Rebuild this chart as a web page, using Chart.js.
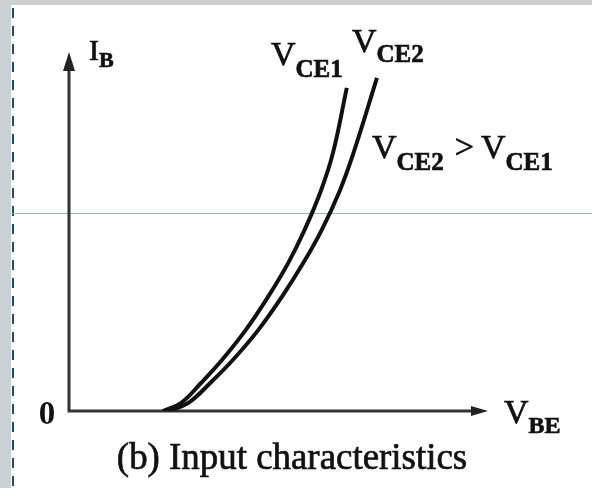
<!DOCTYPE html>
<html>
<head>
<meta charset="utf-8">
<title>Input characteristics</title>
<script src="https://cdn.jsdelivr.net/npm/chart.js@4"></script>
<style>
  html, body { margin: 0; padding: 0; background: #fff; }
  #wrap { position: relative; width: 592px; height: 488px; overflow: hidden; }
  canvas { position: absolute; left: 0; top: 0; }
</style>
</head>
<body>
<div id="wrap"><canvas id="chart" width="592" height="488"></canvas></div>
<script>
// V_BE (V) and I_B (uA)
const vbe1 = [0.224, 0.267, 0.315, 0.365, 0.422, 0.475, 0.523, 0.562, 0.601, 0.630, 0.663];
const ib1  = [0,     2.2,   7.8,   14.2,  22.6,  31.8,  41.2,  50.4,  61.3,  71.9,  90.0];
const vbe2 = [0.236, 0.284, 0.337, 0.391, 0.452, 0.508, 0.559, 0.603, 0.646, 0.679, 0.735];
const ib2  = [0,     2.2,   7.8,   14.2,  22.6,  31.8,  41.2,  50.4,  61.3,  71.9,  92.8];
const seriesNames = ['VCE1', 'VCE2'];

const SERIF = '"Liberation Serif", "DejaVu Serif", serif';
const INK = '#111';

function toPoints(xs, ys) {
  return xs.map((x, i) => ({ x, y: ys[i] }));
}

// text with a subscript, parts: [text, size, weight, dy]
function drawParts(ctx, x, y, parts) {
  let cx = x;
  parts.forEach(([text, size, weight, dy]) => {
    ctx.font = `${weight} ${size}px ${SERIF}`;
    ctx.fillText(text, cx, y + dy);
    ctx.strokeText(text, cx, y + dy);
    cx += ctx.measureText(text).width;
  });
  return cx;
}

const framePlugin = {
  id: 'frame',
  beforeDraw(chart) {
    const ctx = chart.ctx;
    ctx.save();
    ctx.fillStyle = '#fff';
    ctx.fillRect(0, 0, chart.width, chart.height);
    // screenshot border bits
    ctx.fillStyle = '#c9d1d5';
    ctx.fillRect(0, 0, 11, chart.height);
    ctx.fillStyle = '#cfcfcf';
    ctx.fillRect(0, 0, chart.width, 5);
    ctx.strokeStyle = '#1d4f5e';
    ctx.lineWidth = 2;
    ctx.setLineDash([10, 8]);
    ctx.beginPath();
    ctx.moveTo(13, 8);
    ctx.lineTo(13, chart.height);
    ctx.stroke();
    ctx.setLineDash([]);
    ctx.strokeStyle = '#9fb2b8';
    ctx.lineWidth = 1;
    ctx.beginPath();
    ctx.moveTo(11, 213.5);
    ctx.lineTo(chart.width, 213.5);
    ctx.stroke();
    ctx.restore();
  }
};

const axesPlugin = {
  id: 'arrowAxes',
  beforeDatasetsDraw(chart) {
    const { ctx, scales: { x, y } } = chart;
    const x0 = x.getPixelForValue(0);
    const y0 = y.getPixelForValue(0);
    const xEnd = x.getPixelForValue(x.max);
    const yEnd = y.getPixelForValue(y.max);
    ctx.save();
    ctx.strokeStyle = '#333';
    ctx.fillStyle = '#222';
    ctx.lineWidth = 3;
    ctx.beginPath();
    ctx.moveTo(x0, yEnd + 12);
    ctx.lineTo(x0, y0);
    ctx.lineTo(xEnd - 12, y0);
    ctx.stroke();
    ctx.beginPath();
    ctx.moveTo(x0, yEnd);
    ctx.lineTo(x0 - 6, yEnd + 19);
    ctx.lineTo(x0 + 6, yEnd + 19);
    ctx.closePath();
    ctx.fill();
    ctx.beginPath();
    ctx.moveTo(xEnd, y0);
    ctx.lineTo(xEnd - 17, y0 - 5);
    ctx.lineTo(xEnd - 17, y0 + 5);
    ctx.closePath();
    ctx.fill();
    ctx.restore();
  }
};

const labelPlugin = {
  id: 'labels',
  afterDraw(chart) {
    const ctx = chart.ctx;
    ctx.save();
    ctx.fillStyle = INK;
    ctx.strokeStyle = INK;
    ctx.lineWidth = 0.7;
    ctx.textBaseline = 'alphabetic';
    ctx.textAlign = 'left';

    drawParts(ctx, 89, 60, [['I', 30, 'normal', 0], ['B', 22, 'bold', 7]]);
    drawParts(ctx, 271, 65, [['V', 34, 'normal', 0], ['CE1', 25, 'bold', 12]]);
    drawParts(ctx, 352, 52, [['V', 34, 'normal', 0], ['CE2', 25, 'bold', 10]]);
    let cx = drawParts(ctx, 372, 158, [['V', 34, 'normal', 0], ['CE2', 25, 'bold', 12]]);
    cx = drawParts(ctx, cx + 11, 158, [['>', 34, 'normal', 0]]);
    drawParts(ctx, cx + 7, 158, [['V', 34, 'normal', 0], ['CE1', 25, 'bold', 12]]);
    drawParts(ctx, 504, 423, [['V', 34, 'normal', 0], ['BE', 24, 'bold', 10]]);

    ctx.textAlign = 'center';
    ctx.font = `bold 33px ${SERIF}`;
    ctx.fillText('0', 47, 424);

    // caption sized to span the same width as the source
    const caption = '(b) Input characteristics';
    let size = 34;
    ctx.font = `${size}px ${SERIF}`;
    size = size * 350 / ctx.measureText(caption).width;
    ctx.font = `${size.toFixed(1)}px ${SERIF}`;
    ctx.fillText(caption, 292, 469);
    ctx.strokeText(caption, 292, 469);
    ctx.restore();
  }
};

const lineStyle = {
  showLine: true,
  borderColor: INK,
  borderWidth: 4,
  pointRadius: 0,
  tension: 0.4,
  fill: false
};

new Chart(document.getElementById('chart'), {
  type: 'scatter',
  data: {
    datasets: [
      { label: seriesNames[0], data: toPoints(vbe1, ib1), ...lineStyle },
      { label: seriesNames[1], data: toPoints(vbe2, ib2), ...lineStyle }
    ]
  },
  options: {
    responsive: false,
    animation: false,
    layout: { padding: { left: 69, right: 104, top: 52, bottom: 77 } },
    scales: {
      x: { type: 'linear', min: 0, max: 1, display: false },
      y: { type: 'linear', min: 0, max: 100, display: false }
    },
    plugins: {
      legend: { display: false },
      tooltip: { enabled: false }
    }
  },
  plugins: [framePlugin, axesPlugin, labelPlugin]
});
</script>
</body>
</html>
